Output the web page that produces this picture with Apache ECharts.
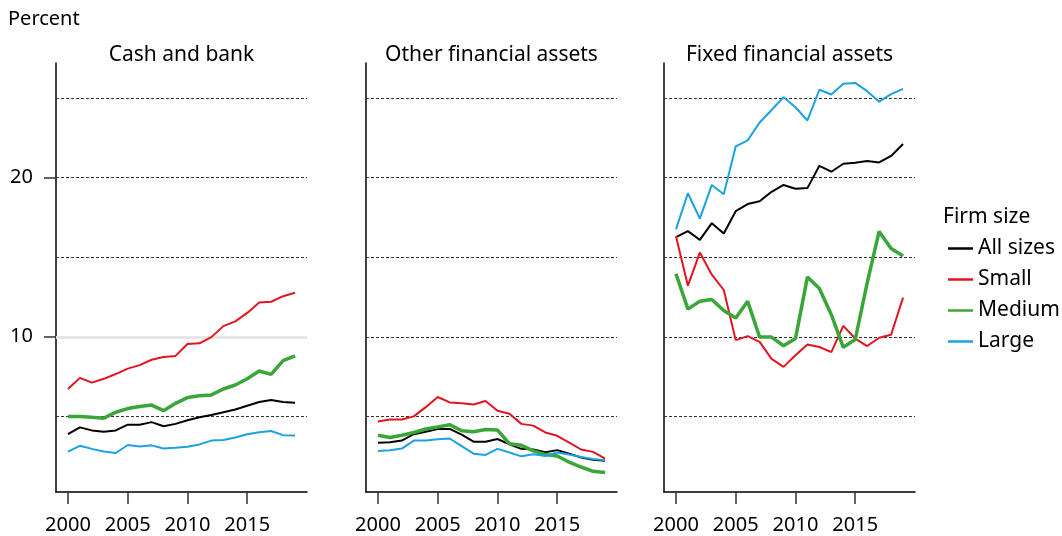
<!DOCTYPE html>
<html>
<head>
<meta charset="utf-8">
<script src="https://cdn.jsdelivr.net/npm/echarts@6/dist/echarts.min.js"></script>
<style>
html,body{margin:0;padding:0;background:#fff;}
#chart{width:1062px;height:536px;}
</style>
</head>
<body>
<div id="chart"></div>
<script>
const years = [2000,2001,2002,2003,2004,2005,2006,2007,2008,2009,2010,2011,2012,2013,2014,2015,2016,2017,2018,2019];
const panelTitles = ['Cash and bank','Other financial assets','Fixed financial assets'];
const seriesNames = ['All sizes','Small','Medium','Large'];
const xTickYears = [2000,2005,2010,2015];
const yTickValues = [10,20];
const gridValues = [5,10,15,20,25];

// Cash and bank
const cashAll    = [3.88,4.31,4.12,4.03,4.12,4.48,4.48,4.64,4.38,4.53,4.76,4.94,5.09,5.26,5.43,5.67,5.90,6.03,5.90,5.86];
const cashSmall  = [6.72,7.42,7.12,7.36,7.66,8.00,8.22,8.56,8.73,8.80,9.55,9.59,9.98,10.67,10.97,11.50,12.15,12.20,12.55,12.77];
const cashMedium = [5.00,5.00,4.94,4.89,5.26,5.49,5.62,5.71,5.36,5.82,6.18,6.29,6.35,6.72,6.97,7.36,7.85,7.64,8.50,8.80];
const cashLarge  = [2.79,3.15,2.96,2.79,2.70,3.20,3.11,3.18,2.98,3.03,3.09,3.24,3.48,3.52,3.67,3.88,4.01,4.08,3.82,3.80];

// Other financial assets
const otherAll    = [3.35,3.37,3.48,3.88,4.03,4.21,4.21,3.86,3.41,3.41,3.58,3.24,2.96,2.92,2.75,2.88,2.66,2.42,2.27,2.21];
const otherSmall  = [4.68,4.81,4.81,5.00,5.58,6.22,5.88,5.82,5.75,5.97,5.36,5.17,4.53,4.42,3.99,3.78,3.35,2.92,2.77,2.34];
const otherMedium = [3.82,3.67,3.82,3.99,4.21,4.33,4.48,4.10,4.03,4.18,4.14,3.28,3.18,2.83,2.60,2.51,2.12,1.82,1.55,1.48];
const otherLarge  = [2.83,2.88,2.98,3.48,3.48,3.56,3.61,3.13,2.66,2.58,2.96,2.73,2.49,2.62,2.51,2.73,2.60,2.45,2.32,2.25];

// Fixed financial assets
const fixedAll    = [16.26,16.64,16.09,17.14,16.49,17.89,18.34,18.51,19.11,19.54,19.30,19.34,20.74,20.37,20.87,20.93,21.04,20.95,21.36,22.11];
const fixedSmall  = [16.32,13.21,15.29,13.90,12.94,9.79,10.04,9.68,8.61,8.11,8.84,9.51,9.36,9.04,10.69,9.89,9.42,9.94,10.13,12.46];
const fixedMedium = [13.96,11.74,12.23,12.34,11.65,11.18,12.23,9.98,9.98,9.44,9.89,13.75,13.04,11.39,9.34,9.83,13.39,16.62,15.55,15.08];
const fixedLarge  = [16.75,19.02,17.42,19.54,18.96,21.96,22.34,23.46,24.25,25.05,24.42,23.59,25.52,25.22,25.90,25.95,25.43,24.77,25.24,25.58];

const panels = [
  [cashAll, cashSmall, cashMedium, cashLarge],
  [otherAll, otherSmall, otherMedium, otherLarge],
  [fixedAll, fixedSmall, fixedMedium, fixedLarge]
];

const colors = ['#000000','#e3141f','#3aa63a','#1aa3e0'];
const widths = [2,2,3.5,2];
const FONT = '"Noto Sans", "Open Sans", sans-serif';

const gridLefts = [56, 366, 664];
const gridW = 251;
const grids = gridLefts.map(l => ({left: l, top: 63, width: gridW, height: 429}));

const xAxes = gridLefts.map((l, i) => ({
  type: 'value', gridIndex: i, min: 1999, max: 2020,
  axisLine: {show: true, lineStyle: {color: '#000', width: 1.5}},
  axisTick: {show: true, customValues: xTickYears, length: 12, lineStyle: {color: '#333', width: 1.5}},
  axisLabel: {show: true, customValues: xTickYears, formatter: v => String(v), fontSize: 20, margin: 23, color: '#000', fontFamily: FONT},
  splitLine: {show: false}
}));

const yAxes = gridLefts.map((l, i) => ({
  type: 'value', gridIndex: i, min: 0.25, max: 27.2,
  axisLine: {show: true, onZero: false, lineStyle: {color: '#000', width: 1.5}},
  axisTick: i === 0 ? {show: true, customValues: yTickValues, length: 12, lineStyle: {color: '#333', width: 1.5}} : {show: false},
  axisLabel: i === 0 ? {show: true, customValues: yTickValues, fontSize: 20, margin: 23, color: '#000', fontFamily: FONT} : {show: false},
  splitLine: {show: false}
}));

const dashStyle = {type: [3, 2], color: '#333', width: 1};
const series = [];
panels.forEach((arrs, p) => {
  arrs.forEach((arr, k) => {
    const s = {
      type: 'line', name: seriesNames[k], xAxisIndex: p, yAxisIndex: p,
      data: years.map((y, j) => [y, arr[j]]),
      symbol: 'none', silent: true, z: 3 + k,
      lineStyle: {color: colors[k], width: widths[k]},
      itemStyle: {color: colors[k]}
    };
    if (k === 0) {
      s.markLine = {
        silent: true, symbol: ['none', 'none'], z: 1,
        label: {show: false},
        lineStyle: dashStyle,
        data: gridValues.map(v => {
          if (p === 0 && v === 10) {
            return {yAxis: v, lineStyle: {type: 'solid', color: '#e6e6e6', width: 3}};
          }
          return {yAxis: v, lineStyle: dashStyle};
        })
      };
    }
    series.push(s);
  });
});

const graphics = [
  {type: 'text', x: 8, y: 19, style: {text: 'Percent', font: '20px ' + FONT, fill: '#000', verticalAlign: 'middle'}},
  {type: 'text', x: 943, y: 217, style: {text: 'Firm size', font: '21px ' + FONT, fill: '#000', verticalAlign: 'middle'}}
];
panelTitles.forEach((t, i) => {
  graphics.push({type: 'text', x: gridLefts[i] + gridW / 2, y: 55,
    style: {text: t, font: '21px ' + FONT, fill: '#000', align: 'center', verticalAlign: 'middle'}});
});

const chart = echarts.init(document.getElementById('chart'), null, {renderer: 'canvas'});
chart.setOption({
  animation: false,
  grid: grids,
  xAxis: xAxes,
  yAxis: yAxes,
  series: series,
  graphic: graphics,
  legend: {
    data: seriesNames, orient: 'vertical', left: 943, top: 233,
    icon: 'rect', itemWidth: 25, itemHeight: 2.5, itemGap: 10,
    selectedMode: false,
    textStyle: {fontSize: 21, fontFamily: FONT, color: '#000', lineHeight: 21, padding: [0, 0, 0, 0]}
  }
});
</script>
</body>
</html>
